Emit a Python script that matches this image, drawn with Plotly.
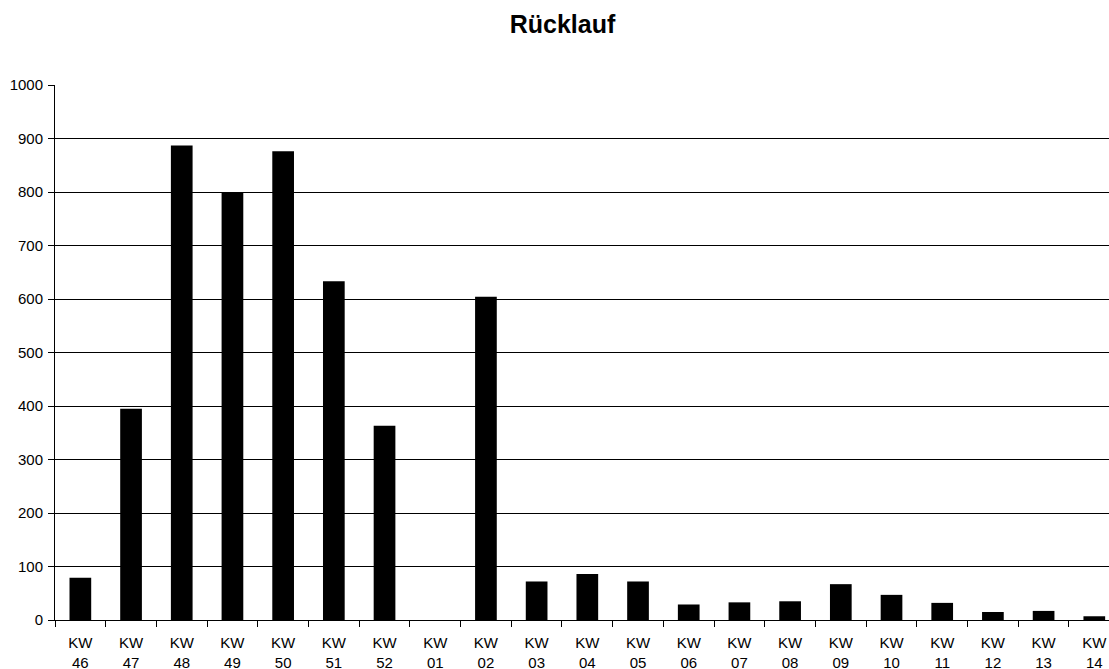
import plotly.graph_objects as go

# Weekly return counts (calendar weeks spanning the turn of the year)
weeks = ["46", "47", "48", "49", "50", "51", "52", "01", "02", "03", "04",
         "05", "06", "07", "08", "09", "10", "11", "12", "13", "14"]
ruecklauf = [79, 395, 887, 800, 876, 633, 363, 0, 604, 72, 86,
             72, 29, 33, 35, 67, 47, 32, 15, 17, 7]

labels = ["KW<br>" + w for w in weeks]

fig = go.Figure(
    go.Bar(
        x=labels,
        y=ruecklauf,
        marker=dict(color="#000000", line=dict(width=0)),
        hoverinfo="x+y",
    )
)

font = "Liberation Sans, Arial, sans-serif"

fig.update_layout(
    width=1109,
    height=669,
    margin=dict(l=55, r=0, t=85, b=49, autoexpand=False),
    paper_bgcolor="white",
    plot_bgcolor="white",
    bargap=0.572,
    showlegend=False,
    title=dict(
        text="<b>Rücklauf</b>",
        x=562.5 / 1109,
        xanchor="center",
        y=1 - 24 / 669,
        yanchor="middle",
        font=dict(family=font, size=25, color="#000000"),
    ),
    font=dict(family=font, size=15, color="#000000"),
)

fig.update_xaxes(
    type="category",
    automargin=False,
    showgrid=False,
    showline=True,
    linecolor="#000000",
    linewidth=1,
    ticks="outside",
    tickson="boundaries",
    ticklen=6,
    tickcolor="#000000",
    ticklabelstandoff=9,
    tickfont=dict(family=font, size=15, color="#000000"),
    range=[-0.5, 20.29],
)

fig.update_yaxes(
    range=[0, 1000],
    dtick=100,
    automargin=False,
    showgrid=True,
    gridcolor="#000000",
    gridwidth=1,
    showline=True,
    linecolor="#000000",
    linewidth=1,
    ticks="outside",
    ticklen=6,
    tickcolor="#000000",
    ticklabelstandoff=2,
    zeroline=False,
    tickfont=dict(family=font, size=15, color="#000000"),
)

fig.write_html("out.html")
